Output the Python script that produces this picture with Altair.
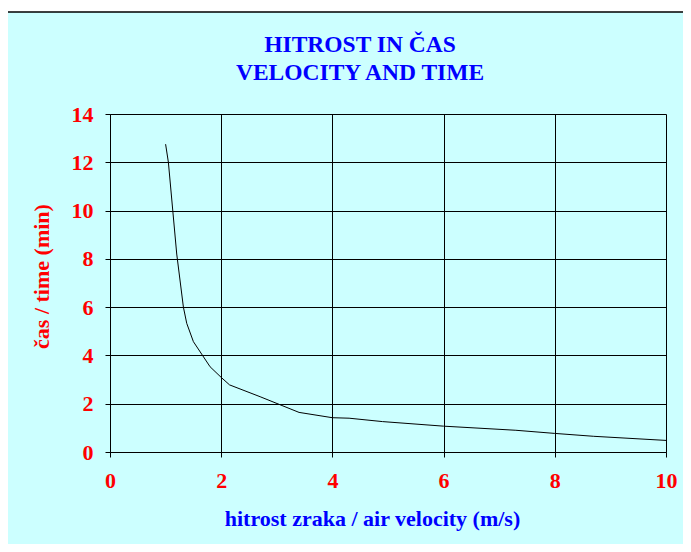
import altair as alt
import pandas as pd

velocity = [1.0, 1.05, 1.2, 1.32, 1.38, 1.5, 1.8, 2.0, 2.15, 2.7, 3.4, 4.0, 4.3, 4.9, 6.0, 7.3, 8.0, 8.7, 10.0]
time_min = [12.75, 12.0, 8.2, 6.0, 5.33, 4.57, 3.53, 3.09, 2.78, 2.29, 1.64, 1.42, 1.40, 1.26, 1.07, 0.9, 0.77, 0.65, 0.48]

x_ticks = [0, 2, 4, 6, 8, 10]
y_ticks = [0, 2, 4, 6, 8, 10, 12, 14]

title_lines = ["HITROST IN ČAS", "VELOCITY AND TIME"]

df = pd.DataFrame({"v": velocity, "t": time_min})

FONT = "Liberation Serif"
CYAN = "#CCFFFF"
FS = 22
TFS = 23.5

frame = alt.Chart(alt.Data(values=[{}])).mark_rect(
    fill=CYAN, stroke="black", strokeWidth=1.5, clip=False
).encode(
    x=alt.value(-103), x2=alt.value(590),
    y=alt.value(-102), y2=alt.value(445),
)

title1 = alt.Chart(alt.Data(values=[{}])).mark_text(
    font=FONT, fontSize=TFS, fontWeight="bold", color="#0000FF",
    align="center", baseline="alphabetic", clip=False
).encode(x=alt.value(250), y=alt.value(-62), text=alt.value(title_lines[0]))

title2 = alt.Chart(alt.Data(values=[{}])).mark_text(
    font=FONT, fontSize=TFS, fontWeight="bold", color="#0000FF",
    align="center", baseline="alphabetic", clip=False
).encode(x=alt.value(250), y=alt.value(-34), text=alt.value(title_lines[1]))

line = alt.Chart(df).mark_line(color="black", strokeWidth=1).encode(
    x=alt.X("v:Q", scale=alt.Scale(domain=[0, 10], nice=False),
            axis=alt.Axis(values=x_ticks, title="hitrost zraka / air velocity (m/s)",
                          titleColor="#0000FF", titleFontSize=FS, titleFont=FONT,
                          titleFontWeight="bold", titlePadding=17, titleX=262,
                          labelColor="#FF0000", labelFontSize=FS, labelFont=FONT,
                          labelFontWeight="bold", labelPadding=13, labelFlush=False,
                          grid=True, gridColor="black", gridOpacity=1, gridWidth=1,
                          domainColor="black", tickColor="black", tickSize=5,
                          zindex=1)),
    y=alt.Y("t:Q", scale=alt.Scale(domain=[0, 14], nice=False),
            axis=alt.Axis(values=y_ticks, title="čas / time (min)",
                          titleColor="#FF0000", titleFontSize=FS, titleFont=FONT,
                          titleFontWeight="bold", titlePadding=18, titleY=162,
                          labelColor="#FF0000", labelFontSize=FS, labelFont=FONT,
                          labelFontWeight="bold", labelPadding=12, labelFlush=False,
                          grid=True, gridColor="black", gridOpacity=1, gridWidth=1,
                          domainColor="black", tickColor="black", tickSize=5,
                          zindex=1)),
)

chart = alt.layer(frame, title1, title2, line).properties(
    width=556, height=338,
    autosize=alt.AutoSizeParams(type="none"),
    padding={"left": 102, "top": 106, "right": 17, "bottom": 92},
).configure(background="white").configure_view(stroke=None)

chart.save("out.html", embed_options={"renderer": "svg", "actions": False})
